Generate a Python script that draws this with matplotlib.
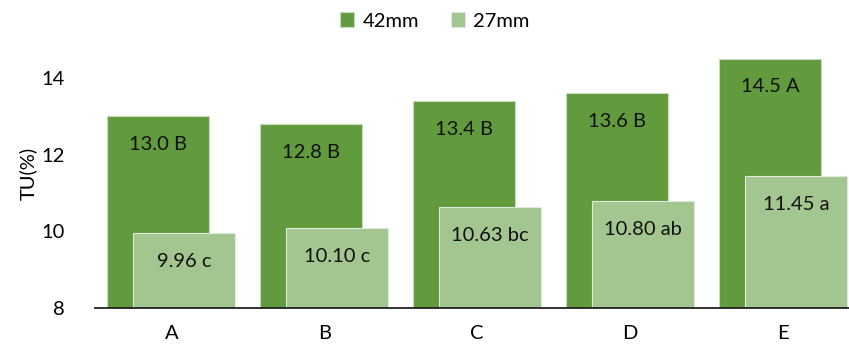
import numpy as np
import matplotlib.pyplot as plt

plt.rcParams['font.family'] = ['Lato', 'DejaVu Sans']

groups = ['A', 'B', 'C', 'D', 'E']
tu_42 = [13.0, 12.8, 13.4, 13.6, 14.5]
tu_27 = [9.96, 10.10, 10.63, 10.80, 11.45]
lab_42 = ['13.0 B', '12.8 B', '13.4 B', '13.6 B', '14.5 A']
lab_27 = ['9.96 c', '10.10 c', '10.63 bc', '10.80 ab', '11.45 a']

dark = '#629a3e'
light = '#a3c58f'
fs = 14.5

fig = plt.figure(figsize=(8.49, 3.52), dpi=100)
ax = fig.add_axes([95 / 849, 44 / 352, (859.5 - 95) / 849, (308 - 39.7) / 352])

x = np.arange(len(groups))
w = 0.667
off = 0.085
b1 = ax.bar(x - off, np.array(tu_42) - 8, w, bottom=8, color=dark,
            edgecolor='#c8dcbc', linewidth=0.8, label='42mm', zorder=2)
b2 = ax.bar(x + off, np.array(tu_27) - 8, w, bottom=8, color=light,
            edgecolor='#dfeada', linewidth=0.8, label='27mm', zorder=3)

for i in range(len(groups)):
    ax.text(x[i] - off, tu_42[i] - 0.73, lab_42[i], ha='center', va='center',
            fontsize=fs, color='#111111', zorder=4)
    ax.text(x[i] + off, tu_27[i] - 0.75, lab_27[i], ha='center', va='center',
            fontsize=fs, color='#111111', zorder=4)

ax.set_xlim(-0.5, 4.5)
ax.set_ylim(8, 15)
ax.set_yticks([8, 10, 12, 14])
ax.set_xticks(x)
ax.set_xticklabels(groups)
ax.tick_params(axis='both', length=0, labelsize=fs)
ax.tick_params(axis='y', pad=22)
ax.tick_params(axis='x', pad=12)
ax.set_ylabel('TU(%)', fontsize=fs)
ax.yaxis.set_label_coords(-58 / 764.5, 0.5)

for s in ['top', 'right', 'left']:
    ax.spines[s].set_visible(False)
ax.spines['bottom'].set_color('#222222')
ax.spines['bottom'].set_linewidth(1.3)
ax.spines['bottom'].set_zorder(5)

fig.legend(handles=[b1, b2], loc='center', bbox_to_anchor=(435 / 849, 1 - 21 / 352),
           ncol=2, frameon=False, fontsize=fs, handlelength=0.7, handleheight=0.7,
           handletextpad=0.4, columnspacing=1.6)

fig.savefig('out.png', dpi=100)
